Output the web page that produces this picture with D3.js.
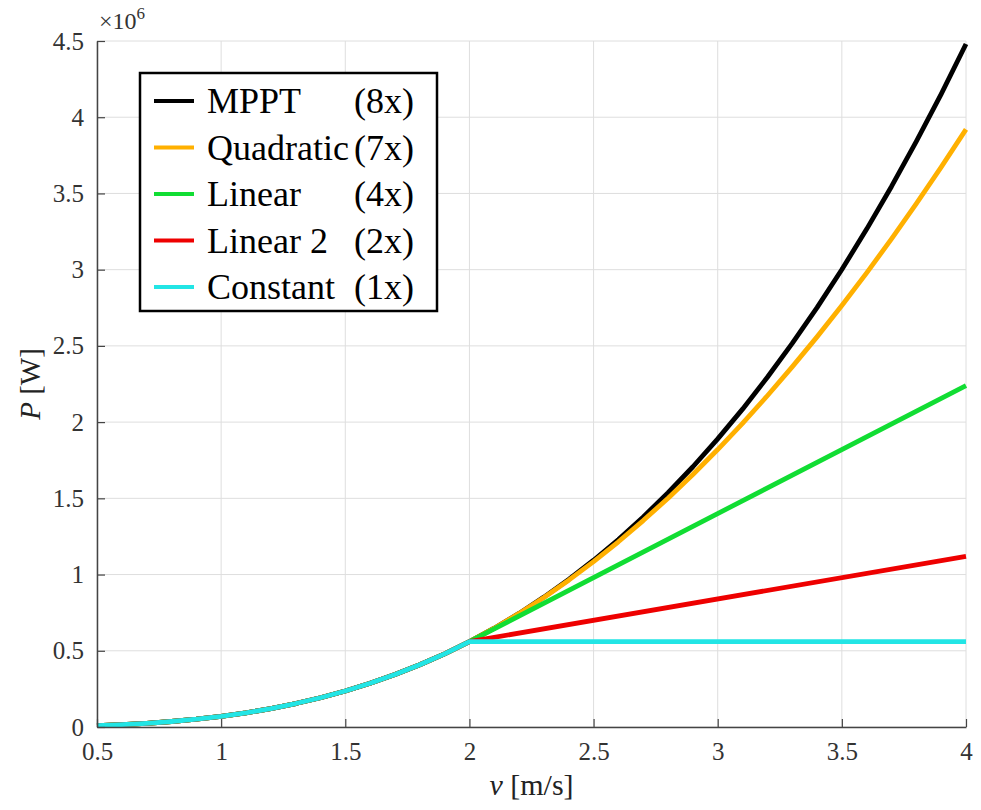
<!DOCTYPE html>
<html>
<head>
<meta charset="utf-8">
<script src="https://cdn.jsdelivr.net/npm/d3@7"></script>
<style>
  body { margin: 0; background: #fff; }
  svg text { font-family: 'Liberation Serif', serif; }
</style>
</head>
<body>
<script>
// values, P in units of 1e6 W
const vLow = [0.5, 0.6, 0.7, 0.8, 0.9, 1.0, 1.1, 1.2, 1.3, 1.4, 1.5, 1.6, 1.7, 1.8, 1.9, 2.0];
const pLow = [0.009, 0.015, 0.024, 0.036, 0.051, 0.070, 0.093, 0.121, 0.154, 0.192, 0.236, 0.287, 0.344, 0.408, 0.480, 0.560];

const vHigh = [2.0, 2.1, 2.2, 2.3, 2.4, 2.5, 2.6, 2.7, 2.8, 2.9, 3.0, 3.1, 3.2, 3.3, 3.4, 3.5, 3.6, 3.7, 3.8, 3.9, 4.0];
const pMppt = [0.560, 0.648, 0.745, 0.852, 0.968, 1.094, 1.230, 1.378, 1.537, 1.707, 1.890, 2.085, 2.294, 2.516, 2.751, 3.001, 3.266, 3.546, 3.841, 4.152, 4.480];
const pQuad = [0.560, 0.648, 0.745, 0.850, 0.963, 1.085, 1.215, 1.354, 1.501, 1.656, 1.820, 1.992, 2.173, 2.362, 2.559, 2.765, 2.979, 3.202, 3.433, 3.672, 3.920];

const vLine = [2.0, 4.0];
const pLinear = [0.560, 2.240];
const pLinear2 = [0.560, 1.120];
const pConst = [0.560, 0.560];

const names = ['MPPT', 'Quadratic', 'Linear', 'Linear 2', 'Constant'];
const factors = ['(8x)', '(7x)', '(4x)', '(2x)', '(1x)'];
const colors = ['#000000', '#ffb000', '#11dd33', '#ee0000', '#22e5e5'];

const xTicks = [0.5, 1, 1.5, 2, 2.5, 3, 3.5, 4];
const yTicks = [0, 0.5, 1, 1.5, 2, 2.5, 3, 3.5, 4, 4.5];

// set the dimensions and margins of the graph
const W = 981, H = 810;
const margin = { top: 41, right: 15, bottom: 83, left: 97 };
const width = W - margin.left - margin.right,
  height = H - margin.top - margin.bottom;

const x = d3.scaleLinear().domain([0.5, 4]).range([0, width]);
const y = d3.scaleLinear().domain([0, 4.5]).range([height, 0]);

const svg = d3.select('body').append('svg')
  .attr('width', W)
  .attr('height', H)
  .attr('font-family', 'Liberation Serif')
  .append('g')
  .attr('transform', `translate(${margin.left},${margin.top})`);

// grid
svg.append('g')
  .selectAll('line')
  .data(xTicks)
  .join('line')
  .attr('x1', d => x(d)).attr('x2', d => x(d))
  .attr('y1', 0).attr('y2', height)
  .attr('stroke', '#dedede').attr('stroke-width', 1);
svg.append('g')
  .selectAll('line')
  .data(yTicks)
  .join('line')
  .attr('x1', 0).attr('x2', width)
  .attr('y1', d => y(d)).attr('y2', d => y(d))
  .attr('stroke', '#dedede').attr('stroke-width', 1);

// build series: low part shared, then each branch
const low = vLow.map((v, i) => ({ v, p: pLow[i] }));
const branch = (vs, ps) => vs.map((v, i) => ({ v, p: ps[i] }));
const series = [
  low.concat(branch(vHigh, pMppt)),
  low.concat(branch(vHigh, pQuad)),
  low.concat(branch(vLine, pLinear)),
  low.concat(branch(vLine, pLinear2)),
  low.concat(branch(vLine, pConst)),
];

const line = d3.line()
  .x(d => x(d.v))
  .y(d => y(d.p));

svg.append('g')
  .selectAll('path')
  .data(series)
  .join('path')
  .attr('d', line)
  .attr('fill', 'none')
  .attr('stroke', (d, i) => colors[i])
  .attr('stroke-width', 4.8)
  .attr('stroke-linejoin', 'round');

// axes
const xAxis = svg.append('g')
  .attr('transform', `translate(0,${height})`)
  .call(d3.axisBottom(x).tickValues(xTicks).tickFormat(d3.format('')).tickSizeInner(-8).tickSizeOuter(0).tickPadding(15));
const yAxis = svg.append('g')
  .call(d3.axisLeft(y).tickValues(yTicks).tickFormat(d3.format('')).tickSizeInner(-8).tickSizeOuter(0).tickPadding(13));

[xAxis, yAxis].forEach(a => {
  a.attr('font-family', 'Liberation Serif').attr('font-size', 25);
  a.select('.domain').attr('stroke', '#444').attr('stroke-width', 1.5);
  a.selectAll('.tick line').attr('stroke', '#444').attr('stroke-width', 1.2);
  a.selectAll('.tick text').attr('fill', '#333');
});

// exponent label
const expo = svg.append('text')
  .attr('x', 2)
  .attr('y', -12)
  .attr('font-size', 24)
  .attr('fill', '#333');
expo.append('tspan').text('\u00d710');
expo.append('tspan').attr('dy', -10).attr('font-size', 17).text('6');

// axis labels
const yl = svg.append('text')
  .attr('transform', `translate(${-57},${height / 2}) rotate(-90)`)
  .attr('text-anchor', 'middle')
  .attr('font-size', 29)
  .attr('fill', '#222');
yl.append('tspan').attr('font-style', 'italic').text('P');
yl.append('tspan').text(' [W]');

const xl = svg.append('text')
  .attr('x', width / 2)
  .attr('y', height + 68)
  .attr('text-anchor', 'middle')
  .attr('font-size', 30)
  .attr('fill', '#222');
xl.append('tspan').attr('font-style', 'italic').text('v');
xl.append('tspan').text(' [m/s]');

// legend
const legend = svg.append('g')
  .attr('transform', `translate(${140 - margin.left},${73 - margin.top})`);
legend.append('rect')
  .attr('width', 297)
  .attr('height', 238)
  .attr('fill', '#fff')
  .attr('stroke', '#000')
  .attr('stroke-width', 2.5);
const rows = legend.selectAll('g.row')
  .data(names)
  .join('g')
  .attr('class', 'row')
  .attr('transform', (d, i) => `translate(0,${28 + i * 46.5})`);
rows.append('line')
  .attr('x1', 14).attr('x2', 54)
  .attr('stroke', (d, i) => colors[i])
  .attr('stroke-width', 4);
rows.append('text')
  .attr('x', 67)
  .attr('y', 12)
  .attr('font-size', 36)
  .text(d => d);
rows.append('text')
  .attr('x', 274)
  .attr('y', 12)
  .attr('text-anchor', 'end')
  .attr('font-size', 36)
  .text((d, i) => factors[i]);
</script>
</body>
</html>
